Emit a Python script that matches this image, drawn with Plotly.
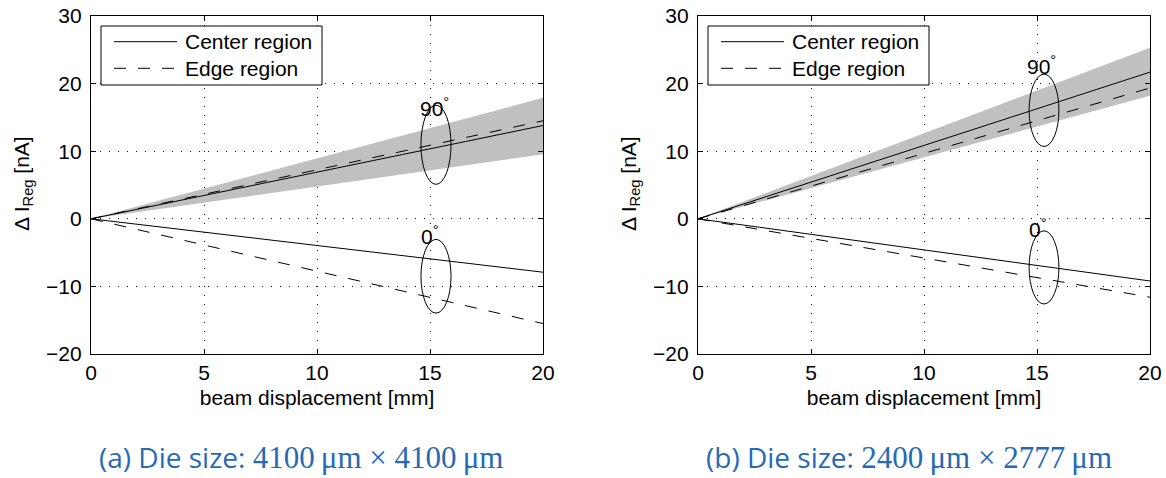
import plotly.graph_objects as go

# ---------------- data ----------------
x_disp = [0, 20]

# (a) Die size 4100 x 4100
a_center_90 = [0, 13.8]
a_edge_90 = [0, 14.5]
a_band_lo = [0, 9.55]
a_band_hi = [0, 17.9]
a_center_0 = [0, -7.9]
a_edge_0 = [0, -15.5]

# (b) Die size 2400 x 2777
b_center_90 = [0, 21.7]
b_edge_90 = [0, 19.35]
b_band_lo = [0, 18.2]
b_band_hi = [0, 25.3]
b_center_0 = [0, -9.2]
b_edge_0 = [0, -11.6]

# ellipse markers (x0, x1, y0, y1) per panel: [90deg, 0deg]
a_ellipses = [(14.6, 15.93, 5.1, 16.8), (14.6, 15.93, -13.95, -3.05)]
b_ellipses = [(14.65, 15.97, 10.7, 21.4), (14.65, 15.97, -12.6, -1.78)]

# angle labels (text, x left, baseline y)
a_labels = [("90", 14.45, 15.1), ("0", 14.5, -3.85)]
b_labels = [("90", 14.48, 21.3), ("0", 14.55, -2.86)]

x_ticks = [0, 5, 10, 15, 20]
y_ticks = [-20, -10, 0, 10, 20, 30]

legend_names = ["Center region", "Edge region"]
captions = ["(a) Die size: ", "(b) Die size: "]
caption_dims = [("4100", "4100"), ("2400", "2777")]

FONT = "Liberation Sans"
FS = 21
BAND = "rgb(192,192,192)"
DASH = "12px,12px"

W, H = 1166, 478

fig = go.Figure()

panels = [
    ("x", "y", a_center_90, a_edge_90, a_band_lo, a_band_hi, a_center_0, a_edge_0),
    ("x2", "y2", b_center_90, b_edge_90, b_band_lo, b_band_hi, b_center_0, b_edge_0),
]

for xa, ya, c90, e90, blo, bhi, c0, e0 in panels:
    fig.add_trace(go.Scatter(x=x_disp, y=blo, mode="lines", line=dict(width=0, color=BAND),
                             showlegend=False, xaxis=xa, yaxis=ya, hoverinfo="skip"))
    fig.add_trace(go.Scatter(x=x_disp, y=bhi, mode="lines", line=dict(width=0, color=BAND),
                             fill="tonexty", fillcolor=BAND, showlegend=False,
                             xaxis=xa, yaxis=ya, hoverinfo="skip"))
    fig.add_trace(go.Scatter(x=x_disp, y=c90, mode="lines", name=legend_names[0],
                             line=dict(color="black", width=1), showlegend=False,
                             xaxis=xa, yaxis=ya))
    fig.add_trace(go.Scatter(x=x_disp, y=e90, mode="lines", name=legend_names[1],
                             line=dict(color="black", width=1, dash=DASH), showlegend=False,
                             xaxis=xa, yaxis=ya))
    fig.add_trace(go.Scatter(x=x_disp, y=c0, mode="lines", name=legend_names[0],
                             showlegend=False,
                             line=dict(color="black", width=1), xaxis=xa, yaxis=ya))
    fig.add_trace(go.Scatter(x=x_disp, y=e0, mode="lines", name=legend_names[1],
                             showlegend=False,
                             line=dict(color="black", width=1, dash=DASH), xaxis=xa, yaxis=ya))

shapes = []
annotations = []
for xa, ya, ells, labs in [("x", "y", a_ellipses, a_labels), ("x2", "y2", b_ellipses, b_labels)]:
    for (x0, x1, y0, y1) in ells:
        shapes.append(dict(type="circle", xref=xa, yref=ya, x0=x0, x1=x1, y0=y0, y1=y1,
                           line=dict(color="black", width=1)))
    for (t, lx, by) in labs:
        annotations.append(dict(text=t + "<sup>°</sup>", x=lx, y=by, xref=xa, yref=ya,
                                xanchor="left", yanchor="bottom", showarrow=False,
                                font=dict(family=FONT, size=FS, color="black"), yshift=-5))

# ---- legends (box + sample lines + labels), one per panel ----
def px_x(p):
    return p / W


def px_y(p):
    return 1 - p / H


for left in [101, 708]:
    shapes.append(dict(type="rect", xref="paper", yref="paper",
                       x0=px_x(left), x1=px_x(left + 221), y0=px_y(85), y1=px_y(26),
                       fillcolor="white", line=dict(color="black", width=1), layer="above"))
    for row, (nm, dash) in enumerate(zip(legend_names, ["solid", DASH])):
        yy = 41.7 + 26.6 * row
        shapes.append(dict(type="line", xref="paper", yref="paper",
                           x0=px_x(left + 13), x1=px_x(left + 76), y0=px_y(yy), y1=px_y(yy),
                           line=dict(color="black", width=1, dash=dash), layer="above"))
        annotations.append(dict(text=nm, x=px_x(left + 82), y=px_y(yy), xref="paper",
                                yref="paper", xanchor="left", yanchor="middle",
                                showarrow=False,
                                font=dict(family=FONT, size=FS, color="black")))

dom_a = [91 / W, 543 / W]
dom_b = [698 / W, 1150 / W]
dom_y = [1 - 354 / H, 1 - 16 / H]

axis_common = dict(showline=True, linecolor="black", linewidth=1.3, mirror="ticks",
                   ticks="inside", ticklen=5, tickcolor="black", tickwidth=1,
                   showgrid=True, gridcolor="black", gridwidth=1, griddash="1px,8px",
                   zeroline=False, automargin=False,
                   tickfont=dict(family=FONT, size=FS, color="black"))

layout_axes = {}
for i, dom in enumerate([dom_a, dom_b]):
    sx = "" if i == 0 else "2"
    layout_axes["xaxis" + sx] = dict(axis_common, domain=dom, range=[0, 20], tickvals=x_ticks,
                                     anchor="y" + sx, ticklabelstandoff=0,
                                     title=dict(text="beam displacement [mm]", standoff=6,
                                                font=dict(family=FONT, size=FS, color="black")))
    layout_axes["yaxis" + sx] = dict(axis_common, domain=dom_y, range=[-20, 30], tickvals=y_ticks,
                                     anchor="x" + sx, ticklabelstandoff=4)

# y-axis labels
for xc in [23, 630]:
    annotations.append(dict(text="Δ I<sub>Reg</sub> [nA]", x=px_x(xc), y=px_y(184), xref="paper",
                            yref="paper", textangle=-90, showarrow=False,
                            xanchor="center", yanchor="middle",
                            font=dict(family=FONT, size=FS, color="black")))

# captions
CAP_COLOR = "rgb(38,106,181)"
for cap, (d1, d2), xc in zip(captions, caption_dims, [301, 909]):
    serif = "font-family:'Liberation Serif';font-size:31px"
    txt = (cap + f"<span style=\"{serif}\">{d1}\u2009μm × {d2}\u2009μm</span>")
    annotations.append(dict(text=txt, x=px_x(xc), y=px_y(457), xref="paper", yref="paper",
                            showarrow=False, xanchor="center", yanchor="middle",
                            font=dict(family="Open Sans", size=28, color=CAP_COLOR)))

fig.update_layout(
    width=W, height=H, margin=dict(l=0, r=0, t=0, b=0),
    plot_bgcolor="white", paper_bgcolor="white", showlegend=False,
    font=dict(family=FONT, size=FS, color="black"),
    shapes=shapes, annotations=annotations,
    **layout_axes,
)

fig.write_html("out.html")
